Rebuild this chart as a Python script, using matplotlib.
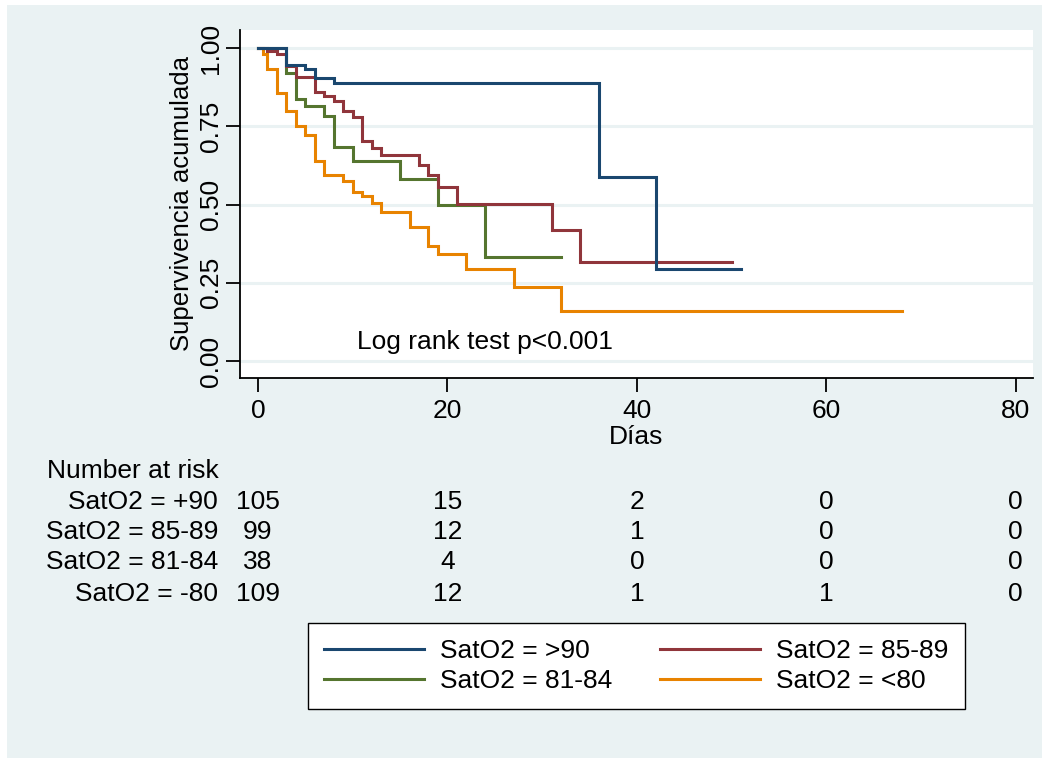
import matplotlib
matplotlib.use("Agg")
import matplotlib.pyplot as plt
from matplotlib.patches import Rectangle
from matplotlib.lines import Line2D
import matplotlib.transforms as mtransforms

plt.rcParams['font.family'] = ['Liberation Sans', 'DejaVu Sans']

# ---- data ----
groups = ["SatO2 = >90", "SatO2 = 85-89", "SatO2 = 81-84", "SatO2 = <80"]
colors = ["#1a476f", "#90353b", "#55752f", "#e88300"]

t_gt90 = [0, 3, 5, 6, 8, 36, 42]
s_gt90 = [1.0, 0.947, 0.933, 0.905, 0.889, 0.588, 0.293]
end_gt90 = 51

t_8589 = [0, 1, 2, 3, 4, 6, 7, 8, 9, 10, 11, 12, 13, 17, 18, 19, 21, 31, 34]
s_8589 = [1.0, 0.990, 0.981, 0.942, 0.907, 0.859, 0.846, 0.830, 0.800, 0.779,
          0.702, 0.681, 0.660, 0.628, 0.596, 0.555, 0.503, 0.419, 0.315]
end_8589 = 50

t_8184 = [0, 3, 4, 5, 7, 8, 10, 15, 19, 24]
s_8184 = [1.0, 0.921, 0.838, 0.814, 0.782, 0.684, 0.641, 0.582, 0.499, 0.334]
end_8184 = 32

t_lt80 = [0, 0.5, 1, 2, 3, 4, 5, 6, 7, 9, 10, 11, 12, 13, 16, 18, 19, 22, 27, 32]
s_lt80 = [1.0, 0.981, 0.933, 0.857, 0.798, 0.752, 0.723, 0.638, 0.595, 0.577,
          0.542, 0.529, 0.506, 0.478, 0.428, 0.367, 0.341, 0.295, 0.238, 0.160]
end_lt80 = 68

risk_times = [0, 20, 40, 60, 80]
risk_labels = ["SatO2 = +90", "SatO2 = 85-89", "SatO2 = 81-84", "SatO2 = -80"]
risk_gt90 = [105, 15, 2, 0, 0]
risk_8589 = [99, 12, 1, 0, 0]
risk_8184 = [38, 4, 0, 0, 0]
risk_lt80 = [109, 12, 1, 1, 0]

x_ticks = [0, 20, 40, 60, 80]
y_ticks = [0.0, 0.25, 0.5, 0.75, 1.0]

# ---- figure ----
W, H = 1045, 764
fig = plt.figure(figsize=(W / 100, H / 100), dpi=100)
fig.patch.set_facecolor("white")
bg = "#eaf2f3"
fig.patches.append(Rectangle((7 / W, 1 - 758 / H), (1042 - 7) / W, (758 - 5) / H,
                             transform=fig.transFigure, facecolor=bg, edgecolor="none", zorder=-10))

ax = fig.add_axes([240 / W, 1 - 377.7 / H, (1033 - 240) / W, (377.7 - 30) / H])
ax.set_facecolor("white")
ax.set_xlim(-1.90, 81.83)
ax.set_ylim(-0.0534, 1.0585)

LW = 2.2
series = [(t_gt90, s_gt90, end_gt90), (t_8589, s_8589, end_8589),
          (t_8184, s_8184, end_8184), (t_lt80, s_lt80, end_lt80)]
for (t, s, e), c, lab in reversed(list(zip(series, colors, groups))):
    ax.step(list(t) + [e], list(s) + [s[-1]], where="post", color=c, lw=LW,
            solid_joinstyle="miter", label=lab)

for yv in y_ticks:
    ax.axhline(yv, color=bg, lw=2.2, zorder=0)

for sp in ["top", "right"]:
    ax.spines[sp].set_visible(False)
for sp in ["left", "bottom"]:
    ax.spines[sp].set_linewidth(1.3)
    ax.spines[sp].set_color("black")

ax.set_xticks(x_ticks)
ax.set_yticks(y_ticks)
ax.set_yticklabels([f"{v:.2f}" for v in y_ticks], rotation=90, va="center")
ax.tick_params(axis="both", direction="out", length=10, width=1.3, labelsize=19)
ax.tick_params(axis="x", pad=5)
ax.tick_params(axis="y", pad=2)
ax.set_xlabel("Días", fontsize=19, labelpad=2)
ax.set_ylabel("Supervivencia acumulada", fontsize=18.5, labelpad=4)

ax.text(10.45, 0.06, "Log rank test p<0.001", fontsize=19, ha="left", va="center")

# ---- number at risk table ----
trans = mtransforms.blended_transform_factory(ax.transData, fig.transFigure)
fig.text(47 / W, 1 - 471 / H, "Number at risk", fontsize=19, ha="left", va="center")
rows_y = [502, 532, 562, 594]
for lab, vals, yy in zip(risk_labels, [risk_gt90, risk_8589, risk_8184, risk_lt80], rows_y):
    fig.text(218 / W, 1 - yy / H, lab, fontsize=19, ha="right", va="center")
    for tt, v in zip(risk_times, vals):
        fig.text(tt, 1 - yy / H, str(v), fontsize=19, ha="center", va="center", transform=trans)

# ---- legend (row-wise order: >90, 85-89 / 81-84, <80) ----
order = [0, 2, 1, 3]
handles = [Line2D([0], [0], color=colors[i], lw=LW) for i in order]
labels = [groups[i] for i in order]
fs = 19
em = fs * 100 / 72
leg = fig.legend(handles, labels, ncol=2, loc="center",
                 bbox_to_anchor=(636.5 / W, 1 - 666 / H), fontsize=fs,
                 frameon=True, fancybox=False, edgecolor="black", framealpha=1,
                 handlelength=100 / em, handletextpad=16 / em, columnspacing=48 / em,
                 borderpad=0.62, labelspacing=0.22, borderaxespad=0)
leg.get_frame().set_linewidth(1.0)

fig.savefig("out.png", dpi=100, facecolor=fig.get_facecolor())
